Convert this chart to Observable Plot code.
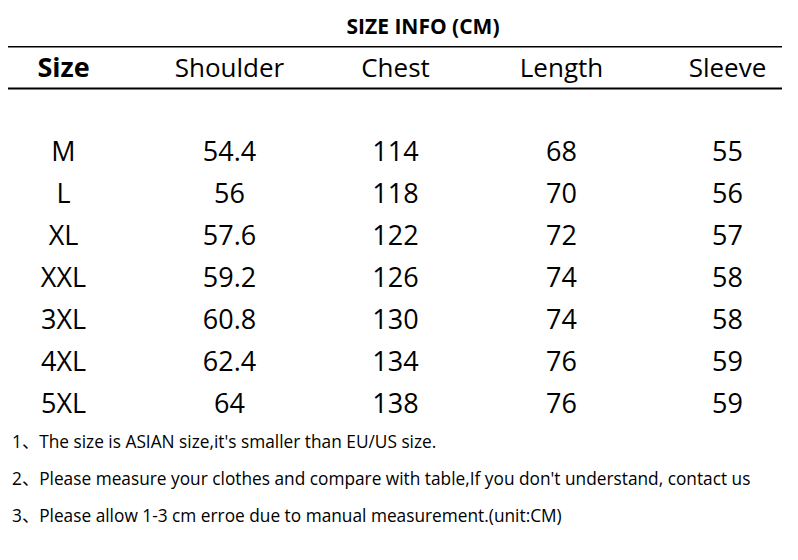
<!DOCTYPE html>
<html>
<head>
<meta charset="utf-8">
<script src="https://cdn.jsdelivr.net/npm/d3@7"></script>
<script src="https://cdn.jsdelivr.net/npm/@observablehq/plot@0.6"></script>
<style>
  html, body { margin: 0; padding: 0; background: #fff; }
  body { width: 798px; height: 560px; overflow: hidden; font-family: "Open Sans", "Noto Sans CJK SC", sans-serif; color: #000; }
  #title { height: 46px; box-sizing: border-box; padding-top: 12px; padding-left: 48px; text-align: center; font-size: 21px; line-height: 28px; font-weight: bold; }
  #chart svg { display: block; }
  #notes { margin-top: -1px; padding-left: 12px; font-size: 17.3px; line-height: 37px; }
</style>
</head>
<body>
<div id="title">SIZE INFO (CM)</div>
<div id="chart"></div>
<div id="notes"></div>
<script>
const columns = ["Size", "Shoulder", "Chest", "Length", "Sleeve"];
const sizes = ["M", "L", "XL", "XXL", "3XL", "4XL", "5XL"];
const shoulder = ["54.4", "56", "57.6", "59.2", "60.8", "62.4", "64"];
const chest = [114, 118, 122, 126, 130, 134, 138];
const length = [68, 70, 72, 74, 74, 76, 76];
const sleeve = [55, 56, 57, 58, 58, 59, 59];
const notes = [
  "1、The size is ASIAN size,it's smaller than EU/US size.",
  "2、Please measure your clothes and compare with table,If you don't understand, contact us",
  "3、Please allow 1-3 cm erroe due to manual measurement.(unit:CM)"
];

const rows = sizes.map((s, i) => ({
  Size: s, Shoulder: shoulder[i], Chest: chest[i], Length: length[i], Sleeve: sleeve[i]
}));
const yDomain = ["header", "gap", ...sizes];

const cellMarks = columns.map(col =>
  Plot.text(rows, {x: () => col, y: "Size", text: d => String(d[col]), fontSize: 27, dy: 1})
);

const chart = Plot.plot({
  width: 798,
  height: 378,
  marginTop: 0,
  marginBottom: 0,
  marginLeft: 8,
  marginRight: 16,
  style: {fontFamily: "'Open Sans', sans-serif", color: "#000", background: "#fff"},
  x: {type: "point", domain: columns, padding: 0.32, axis: null},
  y: {type: "band", domain: yDomain, padding: 0, axis: null},
  marks: [
    Plot.ruleY(["header"], {dy: -21, stroke: "#000", strokeWidth: 2}),
    Plot.ruleY(["header"], {dy: 21, stroke: "#000", strokeWidth: 2}),
    Plot.text(columns.slice(0, 1), {x: d => d, y: () => "header", text: d => d, fontSize: 27, fontWeight: "bold", dy: 1}),
    Plot.text(columns.slice(1), {x: d => d, y: () => "header", text: d => d, fontSize: 26, dy: 1}),
    ...cellMarks
  ]
});
document.getElementById("chart").appendChild(chart);
document.getElementById("notes").innerHTML = notes.map(n => `<div>${n}</div>`).join("");
</script>
</body>
</html>
